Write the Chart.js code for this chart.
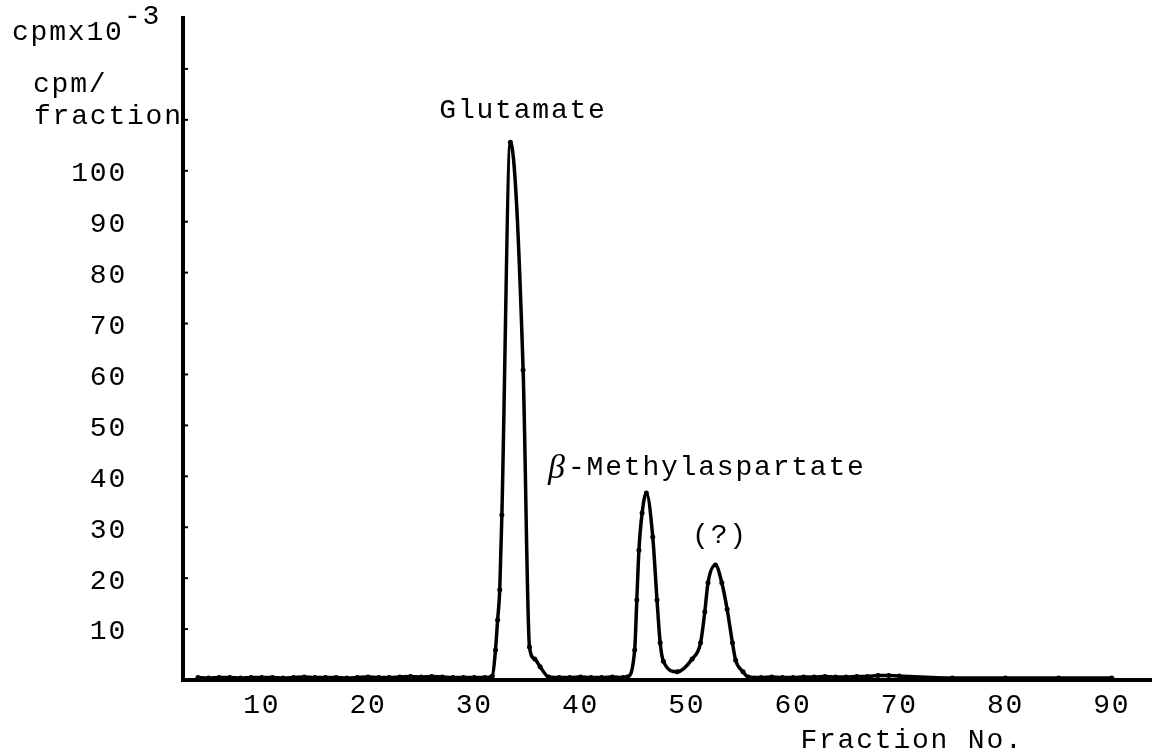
<!DOCTYPE html>
<html><head><meta charset="utf-8">
<script src="https://cdn.jsdelivr.net/npm/chart.js@4.4.0/dist/chart.umd.min.js"></script>
<style>html,body{margin:0;padding:0;background:#fff;overflow:hidden}</style>
</head><body>
<canvas id="c" width="1152" height="754"></canvas>
<script>
// ---- data (fraction number vs cpm x 10^-3 per fraction) ----
const fraction = [
  4,5,6,7,8,9,10,11,12,13,14,15,16,17,18,19,20,21,22,23,24,25,26,27,28,29,30,31,
  31.7,32.0,32.2,32.4,32.6,33.4,34.6,35.2,35.7,36.2,37.0,
  38,39,40,41,42,43,44,
  44.4,45.1,45.3,45.5,45.8,46.2,46.8,47.2,47.5,47.8,49.1,
  50.5,51.3,51.7,52.0,52.7,53.3,53.8,54.3,54.6,55.3,55.8,
  57,58,59,60,61,62,63,64,65,66,67,68,69,70,75,80,85,90
];
const cpm = [
  0.5,0.4,0.5,0.5,0.4,0.5,0.5,0.5,0.4,0.5,0.6,0.5,0.5,0.5,0.4,0.5,0.6,0.5,0.5,0.6,0.7,0.6,0.7,0.6,0.5,0.5,0.5,0.5,
  0.8,5.9,11.8,17.7,32.4,105.6,60.9,6.5,4.1,2.6,0.6,
  0.5,0.5,0.6,0.5,0.5,0.6,0.5,
  0.6,5.9,15.7,25.5,32.8,36.7,28.1,15.7,7.3,3.7,1.6,
  4.1,7.3,13.4,19.1,22.6,19.1,13.9,7.3,3.9,1.6,0.6,
  0.5,0.6,0.5,0.5,0.6,0.6,0.7,0.6,0.6,0.7,0.7,0.9,0.9,0.8,0.4,0.4,0.4,0.4
];
const xTickValues = [10,20,30,40,50,60,70,80,90];
const yTickValues = [10,20,30,40,50,60,70,80,90,100];
const yTickMarks = [10,20,30,40,50,60,70,80,90,100,110,120];
const peakLabels = ["Glutamate", "\u03B2", "-Methylaspartate", "(?)"];
const yTitle = ["cpmx10", "-3", "cpm/", "fraction"];
const xTitle = "Fraction No.";

const FONT = '"Liberation Mono", "DejaVu Sans Mono", monospace';
const SPACING = '1.8px';

const spacingPlugin = {
  id: 'spacing',
  beforeLayout(chart){ chart.ctx.letterSpacing = SPACING; },
  beforeDraw(chart){ chart.ctx.letterSpacing = SPACING; }
};

const decorPlugin = {
  id: 'decor',
  afterDraw(chart){
    const ctx = chart.ctx, ys = chart.scales.y, area = chart.chartArea;
    ctx.save();
    ctx.strokeStyle = '#000';
    // x axis continues to the right edge of the sheet
    ctx.lineWidth = 4;
    ctx.beginPath(); ctx.moveTo(area.right - 1, area.bottom); ctx.lineTo(chart.width, area.bottom); ctx.stroke();
    ctx.lineWidth = 2;
    yTickMarks.forEach(v => {
      const y = ys.getPixelForValue(v);
      ctx.beginPath(); ctx.moveTo(area.left, y); ctx.lineTo(area.left + 5, y); ctx.stroke();
    });
    ctx.fillStyle = '#000';
    ctx.letterSpacing = SPACING;
    ctx.textBaseline = 'alphabetic';
    ctx.font = '28px ' + FONT;
    ctx.textAlign = 'left';
    ctx.fillText(yTitle[0], 12, 40);
    ctx.fillText(yTitle[1], 124, 24);
    ctx.fillText(yTitle[2], 33, 92);
    ctx.fillText(yTitle[3], 34, 124);
    ctx.textAlign = 'center';
    ctx.fillText(peakLabels[0], 523, 118);
    ctx.fillText(peakLabels[3], 720, 543);
    ctx.fillText(xTitle, 912, 748);
    ctx.textAlign = 'left';
    ctx.letterSpacing = '0px';
    ctx.font = 'italic 34px "Liberation Serif", serif';
    ctx.fillText(peakLabels[1], 548, 478);
    ctx.letterSpacing = SPACING;
    ctx.font = '28px ' + FONT;
    ctx.fillText(peakLabels[2], 568, 475);
    ctx.restore();
  }
};

new Chart(document.getElementById('c'), {
  type: 'line',
  data: {
    datasets: [{
      data: fraction.map((f, i) => ({x: f, y: cpm[i]})),
      borderColor: '#000',
      backgroundColor: '#000',
      borderWidth: 3.5,
      pointRadius: 2.5,
      pointBackgroundColor: '#000',
      pointBorderWidth: 0,
      cubicInterpolationMode: 'monotone',
      clip: false
    }]
  },
  options: {
    responsive: false,
    animation: false,
    devicePixelRatio: 1,
    layout: { padding: { top: 18, left: 0, right: 0, bottom: 0 } },
    plugins: { legend: { display: false }, tooltip: { enabled: false }, title: { display: false } },
    scales: {
      x: {
        type: 'linear',
        min: 2.59, max: 93.41,
        afterBuildTicks(s){ s.ticks = xTickValues.map(v => ({value: v})); },
        afterFit(s){ s.height = 74; s.paddingLeft = 0; s.paddingRight = 0; s.paddingTop = 0; s.paddingBottom = 0; },
        grid: { display: false, drawTicks: false },
        border: { display: true, color: '#000', width: 4 },
        ticks: { color: '#000', font: { family: FONT, size: 28 }, padding: 9, maxRotation: 0, autoSkip: false }
      },
      y: {
        type: 'linear',
        min: 0, max: 130,
        afterBuildTicks(s){ s.ticks = yTickValues.map(v => ({value: v})); },
        afterFit(s){ s.width = 183; s.paddingTop = 0; s.paddingBottom = 0; s.paddingLeft = 0; s.paddingRight = 0; },
        grid: { display: false, drawTicks: false },
        border: { display: true, color: '#000', width: 4 },
        ticks: { color: '#000', font: { family: FONT, size: 28 }, padding: 56, labelOffset: 3 }
      }
    }
  },
  plugins: [spacingPlugin, decorPlugin]
});
</script>
</body></html>
